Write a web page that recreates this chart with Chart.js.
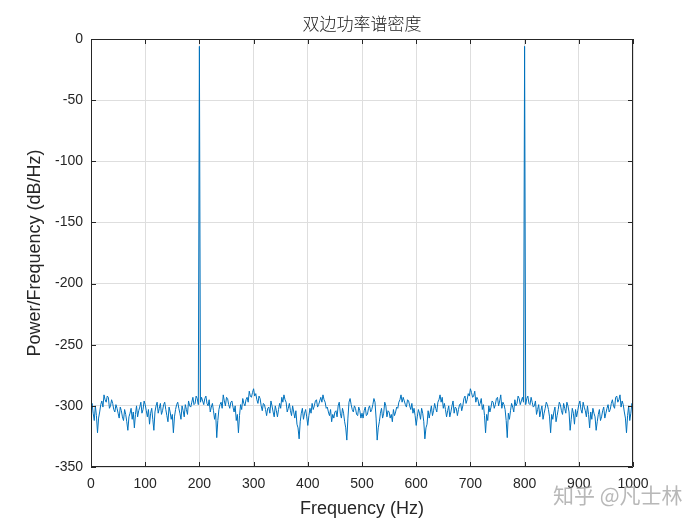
<!DOCTYPE html>
<html>
<head>
<meta charset="utf-8">
<script src="https://cdn.jsdelivr.net/npm/chart.js@4/dist/chart.umd.min.js"></script>
<style>
  html, body { margin: 0; padding: 0; background: #ffffff; }
  #wrap { width: 700px; height: 525px; position: relative; }
</style>
</head>
<body>
<div id="wrap"><canvas id="c" width="700" height="525"></canvas></div>
<script>
// ---- data ----
const chartTitle = "双边功率谱密度";
const xLabel = "Frequency (Hz)";
const yLabel = "Power/Frequency (dB/Hz)";
const watermark = "知乎 @凡士林";
const freqStart = 0;
const freqStep = 2; // Hz between samples
const powerLow = [ // 0 .. 500 Hz
  -303,-298,-306,-312,-300,-308,-322,-310,-305,-299,
  -296,-301,-291,-295,-297,-292,-293,-302,-300,-295,
  -298,-303,-305,-299,-302,-306,-310,-301,-304,-309,
  -312,-303,-307,-313,-320,-309,-306,-302,-311,-305,
  -318,-307,-300,-309,-304,-301,-297,-306,-303,-296,
  -299,-304,-309,-303,-315,-306,-302,-311,-320,-305,
  -300,-297,-306,-302,-298,-307,-304,-299,-297,-303,
  -308,-313,-301,-305,-311,-307,-322,-309,-303,-299,
  -297,-302,-306,-311,-300,-304,-309,-299,-303,-307,
  -296,-300,-301,-297,-293,-299,-298,-292,-294,-299,
  -6,-297,-293,-296,-299,-294,-292,-298,-300,-295,
  -305,-301,-298,-304,-311,-306,-326,-312,-303,-299,
  -297,-302,-291,-296,-300,-293,-294,-299,-302,-297,
  -296,-301,-305,-300,-312,-307,-322,-308,-299,-303,
  -294,-298,-300,-295,-293,-297,-288,-292,-293,-289,
  -286,-292,-290,-295,-298,-292,-294,-300,-304,-298,
  -299,-303,-308,-302,-301,-306,-296,-300,-305,-309,
  -300,-304,-309,-303,-298,-302,-293,-297,-291,-295,
  -297,-305,-302,-298,-304,-308,-300,-305,-310,-304,
  -315,-318,-327,-313,-306,-302,-311,-306,-303,-309,
  -316,-308,-302,-306,-298,-303,-300,-296,-295,-301,
  -299,-296,-293,-297,-291,-295,-297,-302,-301,-305,
  -308,-303,-313,-307,-310,-305,-304,-309,-300,-297,
  -306,-310,-302,-306,-313,-318,-328,-310,-297,-294,
  -299,-303,-305,-300,-302,-307,-308,-301,-304,-310,
  -306
];
const powerHigh = [ // 502 .. 1000 Hz
  -310,-304,-301,-308,-307,-302,-300,-305,-303,-299,
  -294,-297,-310,-328,-318,-313,-306,-302,-310,-306,
  -297,-300,-309,-304,-305,-310,-307,-313,-303,-308,
  -305,-301,-302,-297,-295,-291,-297,-293,-296,-299,
  -301,-295,-296,-300,-303,-298,-306,-302,-308,-316,
  -309,-303,-306,-311,-302,-306,-313,-327,-318,-315,
  -304,-310,-305,-300,-308,-304,-298,-302,-305,-297,
  -295,-291,-297,-293,-302,-298,-303,-309,-304,-300,
  -309,-305,-300,-296,-306,-301,-302,-308,-303,-299,
  -298,-304,-300,-294,-292,-298,-295,-290,-292,-286,
  -289,-293,-292,-288,-297,-293,-295,-300,-298,-294,
  -303,-299,-308,-322,-307,-312,-300,-305,-301,-296,
  -297,-302,-299,-294,-293,-300,-296,-291,-302,-297,
  -299,-303,-312,-326,-306,-311,-304,-298,-301,-305,
  -295,-300,-298,-292,-294,-299,-296,-293,-297,-6,
  -299,-294,-292,-298,-299,-293,-297,-301,-300,-296,
  -307,-303,-299,-309,-304,-300,-311,-306,-302,-297,
  -299,-303,-309,-322,-307,-311,-305,-301,-313,-308,
  -303,-297,-299,-304,-307,-298,-302,-306,-297,-300,
  -305,-320,-311,-302,-306,-315,-303,-309,-304,-299,
  -296,-303,-306,-297,-301,-304,-309,-300,-307,-318,
  -305,-311,-302,-306,-309,-320,-313,-307,-303,-312,
  -309,-304,-301,-310,-306,-302,-299,-305,-303,-298,
  -295,-300,-302,-293,-292,-297,-295,-291,-301,-296,
  -299,-305,-310,-322,-308,-300,-312,-306,-298,-303
];
const xTicks = [0,100,200,300,400,500,600,700,800,900,1000];
const yTicks = [-350,-300,-250,-200,-150,-100,-50,0];

// ---- build chart data ----
const power = powerLow.concat(powerHigh);
const points = power.map((v, i) => ({ x: freqStart + i * freqStep, y: v }));

const AX = '#262626';
const FONT = '"Liberation Sans", Arial, Helvetica, sans-serif';

const deco = {
  id: 'deco',
  afterDraw(chart) {
    const ctx = chart.ctx;
    const a = chart.chartArea;
    const xs = chart.scales.x, ys = chart.scales.y;
    ctx.save();
    // box
    ctx.strokeStyle = AX;
    ctx.lineWidth = 1;
    ctx.beginPath();
    ctx.rect(Math.round(a.left) + 0.5, Math.round(a.top) + 0.5,
             Math.round(a.right - a.left) - 1, Math.round(a.bottom - a.top) - 1);
    ctx.stroke();
    // inward ticks
    const tl = 5;
    ctx.beginPath();
    xTicks.forEach(t => {
      const px = Math.round(xs.getPixelForValue(t)) + 0.5;
      ctx.moveTo(px, a.bottom); ctx.lineTo(px, a.bottom - tl);
      ctx.moveTo(px, a.top); ctx.lineTo(px, a.top + tl);
    });
    yTicks.forEach(t => {
      const py = Math.round(ys.getPixelForValue(t)) + 0.5;
      ctx.moveTo(a.left, py); ctx.lineTo(a.left + tl, py);
      ctx.moveTo(a.right, py); ctx.lineTo(a.right - tl, py);
    });
    ctx.stroke();
    // title
    ctx.fillStyle = '#1a1a1a';
    ctx.font = '300 17px "Noto Sans CJK SC", sans-serif';
    ctx.textAlign = 'center';
    ctx.textBaseline = 'middle';
    ctx.fillText(chartTitle, (a.left + a.right) / 2, 24);
    // axis titles
    ctx.fillStyle = AX;
    ctx.font = '18px ' + FONT;
    ctx.fillText(xLabel, (a.left + a.right) / 2, 509);
    ctx.save();
    ctx.translate(35, (a.top + a.bottom) / 2);
    ctx.rotate(-Math.PI / 2);
    ctx.fillText(yLabel, 0, 0);
    ctx.restore();
    // watermark
    ctx.fillStyle = 'rgba(160,160,160,0.75)';
    ctx.font = '21px "Noto Sans CJK SC", sans-serif';
    ctx.textAlign = 'left';
    ctx.fillText(watermark, 553, 495);
    ctx.restore();
  }
};

new Chart(document.getElementById('c'), {
  type: 'line',
  data: {
    datasets: [{
      data: points,
      borderColor: '#0072BD',
      borderWidth: 1,
      pointRadius: 0,
      tension: 0,
      fill: false
    }]
  },
  options: {
    responsive: false,
    animation: false,
    devicePixelRatio: 1,
    layout: { padding: { top: 39, right: 67, left: 0, bottom: 0 } },
    plugins: { legend: { display: false }, tooltip: { enabled: false }, title: { display: false } },
    scales: {
      x: {
        type: 'linear', min: 0, max: 1000,
        afterFit(s) { s.height = 58; },
        afterBuildTicks(s) { s.ticks = xTicks.map(v => ({ value: v })); },
        grid: { color: '#dedede', drawTicks: false },
        border: { display: false },
        ticks: { padding: 9, color: AX, font: { size: 14, family: FONT }, maxRotation: 0, autoSkip: false,
                 callback: v => String(v) }
      },
      y: {
        type: 'linear', min: -350, max: 0,
        afterFit(s) { s.width = 91; },
        afterBuildTicks(s) { s.ticks = yTicks.map(v => ({ value: v })); },
        grid: { color: '#dedede', drawTicks: false },
        border: { display: false },
        ticks: { padding: 8, color: AX, font: { size: 14, family: FONT }, autoSkip: false,
                 callback: v => String(v) }
      }
    }
  },
  plugins: [deco]
});
</script>
</body>
</html>
